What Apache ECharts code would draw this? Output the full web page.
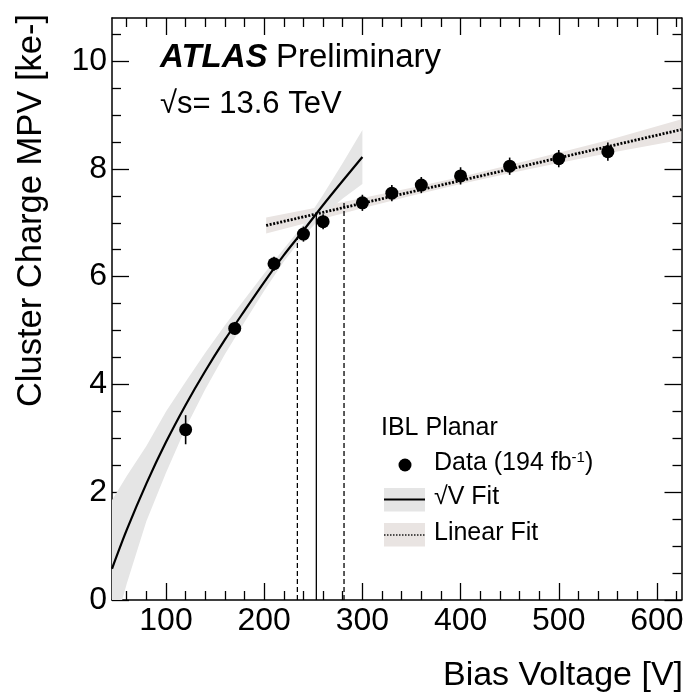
<!DOCTYPE html>
<html>
<head>
<meta charset="utf-8">
<script src="https://cdn.jsdelivr.net/npm/echarts@6.0.0/dist/echarts.min.js"></script>
<style>
html,body{margin:0;padding:0;background:#fff;}
#chart{width:687px;height:699px;}
</style>
</head>
<body>
<div id="chart"></div>
<script>
// ---------- data ----------
var dataV   = [120, 170, 210, 240, 260, 300, 330, 360, 400, 450, 500, 550];
var dataMPV = [3.16, 5.04, 6.24, 6.79, 7.02, 7.37, 7.55, 7.70, 7.87, 8.05, 8.19, 8.32];
var dataErr = [0.27, 0.12, 0.13, 0.14, 0.14, 0.15, 0.15, 0.15, 0.16, 0.16, 0.16, 0.17];

var sqrtFitV     = [45, 60, 80, 100, 120, 140, 160, 180, 200, 220, 240, 260, 280, 300];
var sqrtFitY     = [0.58, 1.30, 2.16, 2.93, 3.62, 4.25, 4.83, 5.37, 5.90, 6.40, 6.86, 7.33, 7.78, 8.22];
var sqrtBandUp   = [1.85, 2.30, 2.86, 3.50, 4.05, 4.59, 5.10, 5.58, 6.06, 6.52, 6.97, 7.52, 8.11, 8.72];
var sqrtBandLow  = [-0.67, 0.30, 1.46, 2.36, 3.19, 3.91, 4.56, 5.16, 5.74, 6.28, 6.75, 7.14, 7.45, 7.72];

var linFitV      = [202, 625];
var linFitY      = [6.95, 8.73];
var linBandV     = [202, 250, 300, 350, 400, 450, 500, 550, 625];
var linBandUp    = [7.10, 7.27, 7.46, 7.65, 7.85, 8.07, 8.30, 8.53, 8.92];
var linBandLow   = [6.80, 7.03, 7.27, 7.50, 7.72, 7.92, 8.11, 8.29, 8.54];

// depletion voltage markers: [voltage, top]
var vDepCentral  = [253.1, 7.16];
var vDepLow      = [233.8, 6.74];
var vDepHigh     = [281.3, 7.42];

var xMajorTicks = [100, 200, 300, 400, 500, 600];
var xMinorTicks = [60, 80, 120, 140, 160, 180, 220, 240, 260, 280, 320, 340, 360, 380,
                   420, 440, 460, 480, 520, 540, 560, 580, 620];
var yMajorTicks = [0, 2, 4, 6, 8, 10];
var yMinorTicks = [0.5, 1, 1.5, 2.5, 3, 3.5, 4.5, 5, 5.5, 6.5, 7, 7.5, 8.5, 9, 9.5, 10.5];

var xMin = 45, xMax = 625, yMin = 0, yMax = 10.8;

// ---------- chart ----------
var FONT = '"Liberation Sans", Arial, Helvetica, sans-serif';
var chart = echarts.init(document.getElementById('chart'), null, {renderer: 'canvas'});

function zip(a, b) { var r = []; for (var i = 0; i < a.length; i++) r.push([a[i], b[i]]); return r; }

function bandRenderer(vs, lo, hi, color) {
  return function (params, api) {
    if (params.dataIndex !== 0) return null;
    var pts = [];
    for (var i = 0; i < vs.length; i++) pts.push(api.coord([vs[i], hi[i]]));
    for (var j = vs.length - 1; j >= 0; j--) pts.push(api.coord([vs[j], lo[j]]));
    var cs = params.coordSys;
    return {
      type: 'group',
      clipPath: {type: 'rect', shape: {x: cs.x, y: cs.y, width: cs.width, height: cs.height}},
      children: [{type: 'polygon', shape: {points: pts}, style: {fill: color}, silent: true}]
    };
  };
}

function xAxisDef(pos, ticks, len, showLine, showLabels) {
  return {
    type: 'value', position: pos, min: xMin, max: xMax,
    axisLine: {show: showLine, onZero: false, lineStyle: {color: '#000', width: 1.5}},
    axisTick: {show: true, inside: true, length: len, customValues: ticks, lineStyle: {color: '#000', width: 1.3}},
    axisLabel: showLabels ? {show: true, customValues: ticks, fontSize: 32, color: '#000', margin: 5, fontFamily: FONT} : {show: false},
    splitLine: {show: false}
  };
}
function yAxisDef(pos, ticks, len, showLine, showLabels) {
  return {
    type: 'value', position: pos, min: yMin, max: yMax,
    axisLine: {show: showLine, onZero: false, lineStyle: {color: '#000', width: 1.5}},
    axisTick: {show: true, inside: true, length: len, customValues: ticks, lineStyle: {color: '#000', width: 1.3}},
    axisLabel: showLabels ? {show: true, customValues: ticks, fontSize: 32, color: '#000', margin: 5, fontFamily: FONT} : {show: false},
    splitLine: {show: false}
  };
}

var option = {
  animation: false,
  backgroundColor: '#fff',
  textStyle: {fontFamily: FONT},
  grid: {left: 112, right: 5.5, top: 18, bottom: 99, containLabel: false},
  xAxis: [
    xAxisDef('bottom', xMajorTicks, 17, true, true),
    xAxisDef('bottom', xMinorTicks, 9, false, false),
    xAxisDef('top', xMajorTicks, 17, true, false),
    xAxisDef('top', xMinorTicks, 9, false, false)
  ],
  yAxis: [
    yAxisDef('left', yMajorTicks, 17, true, true),
    yAxisDef('left', yMinorTicks, 9, false, false),
    yAxisDef('right', yMajorTicks, 17, true, false),
    yAxisDef('right', yMinorTicks, 9, false, false)
  ],
  series: [
    {
      type: 'custom', name: 'linBand', xAxisIndex: 0, yAxisIndex: 0, z: 1, silent: true,
      data: linBandV.map(function (v, i) { return [v, linBandLow[i], linBandUp[i]]; }),
      encode: {x: 0, y: [1, 2]},
      renderItem: bandRenderer(linBandV, linBandLow, linBandUp, '#e9e4e2')
    },
    {
      type: 'custom', name: 'sqrtBand', xAxisIndex: 0, yAxisIndex: 0, z: 2, silent: true,
      data: sqrtFitV.map(function (v, i) { return [v, sqrtBandLow[i], sqrtBandUp[i]]; }),
      encode: {x: 0, y: [1, 2]},
      renderItem: bandRenderer(sqrtFitV, sqrtBandLow, sqrtBandUp, '#e5e5e5')
    },
    {
      type: 'line', name: 'linFit', z: 3, symbol: 'none', silent: true,
      data: zip(linFitV, linFitY),
      lineStyle: {color: '#000', width: 2.8, type: [2, 1.6]}
    },
    {
      type: 'line', name: 'sqrtFit', z: 4, symbol: 'none', smooth: 0.3, silent: true,
      data: zip(sqrtFitV, sqrtFitY),
      lineStyle: {color: '#000', width: 2.2}
    },
    {
      type: 'line', name: 'vdep', z: 5, symbol: 'none', silent: true,
      data: [[vDepCentral[0], 0], [vDepCentral[0], vDepCentral[1]]],
      lineStyle: {color: '#000', width: 1.3}
    },
    {
      type: 'line', name: 'vdepLow', z: 5, symbol: 'none', silent: true,
      data: [[vDepLow[0], 0], [vDepLow[0], vDepLow[1]]],
      lineStyle: {color: '#000', width: 1.3, type: [5, 3]}
    },
    {
      type: 'line', name: 'vdepHigh', z: 5, symbol: 'none', silent: true,
      data: [[vDepHigh[0], 0], [vDepHigh[0], vDepHigh[1]]],
      lineStyle: {color: '#000', width: 1.3, type: [5, 3]}
    },
    {
      type: 'custom', name: 'err', z: 6, silent: true,
      data: dataV.map(function (v, i) { return [v, dataMPV[i], dataErr[i]]; }),
      encode: {x: 0, y: 1},
      renderItem: function (params, api) {
        var v = api.value(0), y = api.value(1), e = api.value(2);
        var p1 = api.coord([v, y - e]), p2 = api.coord([v, y + e]);
        return {type: 'line', shape: {x1: p1[0], y1: p1[1], x2: p2[0], y2: p2[1]},
                style: {stroke: '#000', lineWidth: 1.6}};
      }
    },
    {
      type: 'scatter', name: 'data', z: 7, symbol: 'circle', symbolSize: 13, silent: true,
      itemStyle: {color: '#000', opacity: 1},
      data: zip(dataV, dataMPV)
    }
  ],
  graphic: [
    // axis titles
    {type: 'text', x: 683, y: 676, style: {text: 'Bias Voltage [V]', font: '34px ' + FONT, fill: '#000', align: 'right', verticalAlign: 'middle'}},
    {type: 'text', x: 31, y: 14, rotation: Math.PI / 2, style: {text: 'Cluster Charge MPV [ke-]', font: '34.5px ' + FONT, fill: '#000', align: 'right', verticalAlign: 'middle'}},
    // ATLAS label
    {type: 'text', x: 160, y: 58, style: {text: 'ATLAS', font: 'italic bold 33px ' + FONT, fill: '#000', align: 'left', verticalAlign: 'middle'}},
    {type: 'text', x: 276, y: 58, style: {text: 'Preliminary', font: '33px ' + FONT, fill: '#000', align: 'left', verticalAlign: 'middle'}},
    {type: 'text', x: 160, y: 104, style: {text: '\u221As= 13.6 TeV', font: '31px ' + FONT, fill: '#000', align: 'left', verticalAlign: 'middle'}},
    // legend
    {type: 'text', x: 381, y: 428, style: {text: 'IBL Planar', font: '25px ' + FONT, fill: '#000', align: 'left', verticalAlign: 'middle'}},
    {type: 'circle', shape: {cx: 405, cy: 465, r: 6.5}, style: {fill: '#000'}},
    {type: 'text', x: 434, y: 463, style: {
      text: '{a|Data (194 fb}{s|-1}{a|)}', align: 'left', verticalAlign: 'middle',
      rich: {a: {fontSize: 25, fontFamily: FONT, fill: '#000', verticalAlign: 'bottom'},
             s: {fontSize: 15, fontFamily: FONT, fill: '#000', verticalAlign: 'top'}}
    }},
    {type: 'rect', shape: {x: 384, y: 488, width: 41, height: 23.5}, style: {fill: '#e5e5e5'}},
    {type: 'line', shape: {x1: 384, y1: 499.5, x2: 425, y2: 499.5}, style: {stroke: '#000', lineWidth: 2.2}},
    {type: 'text', x: 434, y: 497, style: {text: '\u221AV Fit', font: '25px ' + FONT, fill: '#000', align: 'left', verticalAlign: 'middle'}},
    {type: 'rect', shape: {x: 384, y: 523, width: 41, height: 23.5}, style: {fill: '#e9e4e2'}},
    {type: 'line', shape: {x1: 384, y1: 535, x2: 425, y2: 535}, style: {stroke: '#1a1a1a', lineWidth: 1.5, lineDash: [1.5, 1.5]}},
    {type: 'text', x: 434, y: 533, style: {text: 'Linear Fit', font: '25px ' + FONT, fill: '#000', align: 'left', verticalAlign: 'middle'}}
  ]
};
chart.setOption(option);
</script>
</body>
</html>
